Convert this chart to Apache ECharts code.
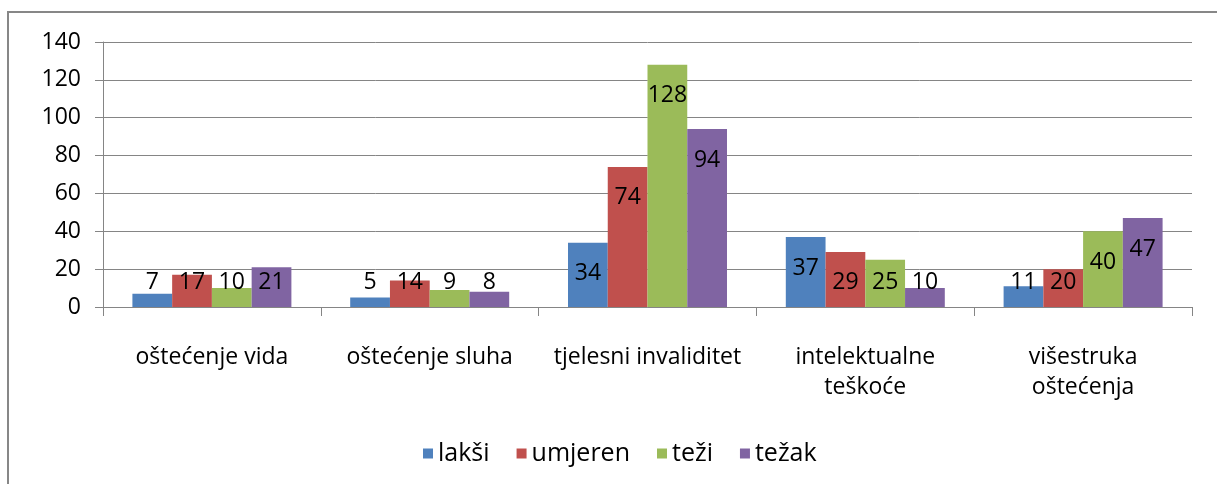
<!DOCTYPE html>
<html>
<head>
<meta charset="utf-8">
<script src="https://cdn.jsdelivr.net/npm/echarts@6/dist/echarts.min.js"></script>
<style>
  html, body { margin: 0; padding: 0; background: #fff; }
  #chart { width: 1217px; height: 484px; }
</style>
</head>
<body>
<div id="chart"></div>
<script>
// kategorije i vrijednosti
const categories = ['oštećenje vida', 'oštećenje sluha', 'tjelesni invaliditet', 'intelektualne\nteškoće', 'višestruka\noštećenja'];
const seriesNames = ['lakši', 'umjeren', 'teži', 'težak'];
const lakši = [7, 5, 34, 37, 11];
const umjeren = [17, 14, 74, 29, 20];
const teži = [10, 9, 128, 25, 40];
const težak = [21, 8, 94, 10, 47];
const colors = ['#4F81BD', '#C0504D', '#9BBB59', '#8064A2'];

const FONT = '"Open Sans", sans-serif';
const values = [lakši, umjeren, teži, težak];

const chart = echarts.init(document.getElementById('chart'));

chart.setOption({
  animation: false,
  textStyle: { fontFamily: FONT },
  graphic: [
    {
      type: 'rect',
      shape: { x: 8, y: 12, width: 1300, height: 600 },
      style: { fill: 'none', stroke: '#878787', lineWidth: 2 },
      silent: true
    }
  ],
  legend: {
    bottom: 13,
    left: 418,
    icon: 'rect',
    itemWidth: 10,
    itemHeight: 10,
    itemGap: 27,
    textStyle: { fontSize: 25, color: '#000', fontFamily: FONT },
    data: seriesNames
  },
  grid: {
    left: 103,
    right: 25,
    top: 42,
    bottom: 177
  },
  xAxis: {
    type: 'category',
    data: categories,
    axisLine: { lineStyle: { color: '#858585', width: 1 } },
    axisTick: { show: true, length: 9, lineStyle: { color: '#858585' } },
    axisLabel: {
      interval: 0,
      margin: 35,
      fontSize: 23,
      lineHeight: 30,
      color: '#000',
      fontFamily: FONT
    }
  },
  yAxis: {
    type: 'value',
    min: 0,
    max: 140,
    interval: 20,
    axisLine: { show: true, lineStyle: { color: '#858585', width: 1 } },
    axisTick: { show: true, length: 8, lineStyle: { color: '#858585' } },
    splitLine: { lineStyle: { color: '#858585', width: 1 } },
    axisLabel: { fontSize: 23, color: '#000', margin: 22, fontFamily: FONT }
  },
  series: seriesNames.map((name, i) => ({
    name: name,
    type: 'bar',
    data: values[i],
    barGap: '0%',
    barCategoryGap: '27%',
    itemStyle: { color: colors[i] },
    label: {
      show: true,
      position: 'insideTop',
      fontSize: 23,
      color: '#000',
      fontFamily: FONT
    },
    // oznake su unutar stupca, ali ne niže od razine kratkih stupaca
    labelLayout: (p) => ({
      x: p.rect.x + p.rect.width / 2,
      y: Math.min(p.rect.y + 31, p.rect.y + p.rect.height - 25),
      align: 'center',
      verticalAlign: 'middle'
    })
  }))
});
</script>
</body>
</html>
